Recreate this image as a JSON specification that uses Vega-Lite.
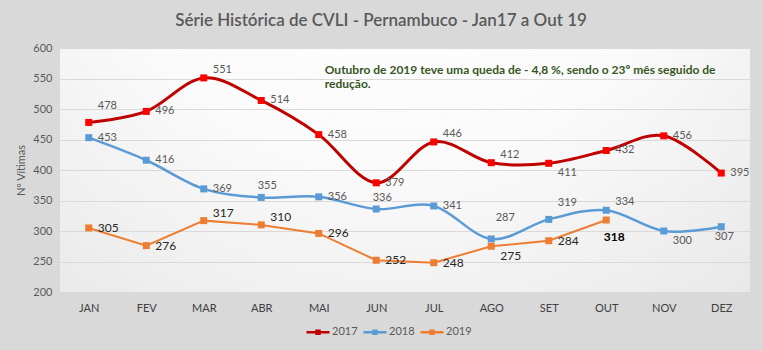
{
  "$schema": "https://vega.github.io/schema/vega-lite/v6.json",
  "width": 690,
  "height": 244,
  "autosize": {"type": "none"},
  "padding": {"left": 60, "top": 48, "right": 13, "bottom": 58},
  "background": "#d9d9d9",
  "title": {
    "text": "Série Histórica de CVLI - Pernambuco - Jan17 a Out 19",
    "font": "Lato",
    "fontSize": 17,
    "fontWeight": 600,
    "color": "#595959",
    "anchor": "middle",
    "dx": -24,
    "offset": 12
  },
  "data": {
    "values": [
      {"mes": "JAN", "ano": "2017", "v": 478},
      {"mes": "FEV", "ano": "2017", "v": 496},
      {"mes": "MAR", "ano": "2017", "v": 551},
      {"mes": "ABR", "ano": "2017", "v": 514},
      {"mes": "MAI", "ano": "2017", "v": 458},
      {"mes": "JUN", "ano": "2017", "v": 379},
      {"mes": "JUL", "ano": "2017", "v": 446},
      {"mes": "AGO", "ano": "2017", "v": 412},
      {"mes": "SET", "ano": "2017", "v": 411},
      {"mes": "OUT", "ano": "2017", "v": 432},
      {"mes": "NOV", "ano": "2017", "v": 456},
      {"mes": "DEZ", "ano": "2017", "v": 395},
      {"mes": "JAN", "ano": "2018", "v": 453},
      {"mes": "FEV", "ano": "2018", "v": 416},
      {"mes": "MAR", "ano": "2018", "v": 369},
      {"mes": "ABR", "ano": "2018", "v": 355},
      {"mes": "MAI", "ano": "2018", "v": 356},
      {"mes": "JUN", "ano": "2018", "v": 336},
      {"mes": "JUL", "ano": "2018", "v": 341},
      {"mes": "AGO", "ano": "2018", "v": 287},
      {"mes": "SET", "ano": "2018", "v": 319},
      {"mes": "OUT", "ano": "2018", "v": 334},
      {"mes": "NOV", "ano": "2018", "v": 300},
      {"mes": "DEZ", "ano": "2018", "v": 307},
      {"mes": "JAN", "ano": "2019", "v": 305},
      {"mes": "FEV", "ano": "2019", "v": 276},
      {"mes": "MAR", "ano": "2019", "v": 317},
      {"mes": "ABR", "ano": "2019", "v": 310},
      {"mes": "MAI", "ano": "2019", "v": 296},
      {"mes": "JUN", "ano": "2019", "v": 252},
      {"mes": "JUL", "ano": "2019", "v": 248},
      {"mes": "AGO", "ano": "2019", "v": 275},
      {"mes": "SET", "ano": "2019", "v": 284},
      {"mes": "OUT", "ano": "2019", "v": 318}
    ]
  },
  "encoding": {
    "x": {
      "field": "mes",
      "type": "ordinal",
      "sort": ["JAN", "FEV", "MAR", "ABR", "MAI", "JUN", "JUL", "AGO", "SET", "OUT", "NOV", "DEZ"],
      "scale": {"type": "point", "padding": 0.5},
      "axis": {"title": null, "labelAngle": 0, "labelPadding": 10, "labelColor": "#404040", "grid": false}
    },
    "y": {
      "field": "v",
      "type": "quantitative",
      "scale": {"domain": [200, 600], "nice": false, "zero": false},
      "axis": {"title": "Nº Vítimas", "values": [200, 250, 300, 350, 400, 450, 500, 550, 600], "labelPadding": 8, "titlePadding": 6, "titleFont": "Lato", "titleFontSize": 11, "titleFontWeight": "normal", "titleColor": "#595959", "grid": true}
    }
  },
  "layer": [
    {
      "transform": [{"filter": "datum.ano != '2019'"}],
      "mark": {"type": "line", "interpolate": "cardinal"},
      "encoding": {
        "color": {"field": "ano", "type": "nominal", "scale": {"domain": ["2017", "2018", "2019"], "range": ["#c00000", "#5b9bd5", "#ed7d31"]},
          "legend": {"title": null, "orient": "none", "legendX": 245, "legendY": 271, "direction": "horizontal", "symbolType": "M-1,0H1M-0.13,-0.13H0.13V0.13H-0.13Z", "symbolSize": 529, "symbolStrokeWidth": 2.5, "labelFont": "Lato", "labelFontSize": 11, "labelColor": "#595959", "labelOffset": 1, "columnPadding": 0}},
        "strokeWidth": {"condition": {"test": "datum.ano == '2017'", "value": 3}, "value": 2.5}
      }
    },
    {
      "transform": [{"filter": "datum.ano == '2019'"}],
      "mark": {"type": "line", "interpolate": "linear", "strokeWidth": 2},
      "encoding": {
        "color": {"field": "ano", "type": "nominal"}
      }
    },
    {
      "mark": {"type": "square", "size": 49, "opacity": 1, "filled": true},
      "encoding": {
        "fill": {"field": "ano", "type": "nominal", "scale": {"domain": ["2017", "2018", "2019"], "range": ["#ff0000", "#5b9bd5", "#ed7d31"]}, "legend": null}
      }
    },
    {
      "transform": [{"calculate": "datum.ano + datum.mes", "as": "k"}, {"filter": "indexof(['2017FEV','2017ABR','2017MAI','2017JUN','2017OUT','2017NOV','2017DEZ','2018JAN','2018FEV','2018MAR','2018MAI','2018JUL','2019JAN','2019FEV','2019MAI','2019JUN','2019JUL','2019SET'], datum.k) >= 0"}],
      "mark": {"type": "text", "align": "left", "baseline": "middle", "dx": 9, "dy": 0, "font": "Lato"},
      "encoding": {
        "text": {"field": "v", "type": "quantitative"},
        "color": {"condition": {"test": "datum.ano == '2019'", "value": "#262626"}, "value": "#595959"},
        "size": {"condition": {"test": "datum.ano == '2019'", "value": 12}, "value": 11}
      }
    },
    {
      "transform": [{"calculate": "datum.ano + datum.mes", "as": "k"}, {"filter": "indexof(['2017MAR','2017JUL','2017AGO','2018OUT','2019MAR','2019ABR'], datum.k) >= 0"}],
      "mark": {"type": "text", "align": "left", "baseline": "middle", "dx": 9, "dy": -8, "font": "Lato"},
      "encoding": {
        "text": {"field": "v", "type": "quantitative"},
        "color": {"condition": {"test": "datum.ano == '2019'", "value": "#262626"}, "value": "#595959"},
        "size": {"condition": {"test": "datum.ano == '2019'", "value": 12}, "value": 11}
      }
    },
    {
      "transform": [{"calculate": "datum.ano + datum.mes", "as": "k"}, {"filter": "indexof(['2017JAN','2018SET'], datum.k) >= 0"}],
      "mark": {"type": "text", "align": "left", "baseline": "middle", "dx": 9, "dy": -16, "font": "Lato", "color": "#595959", "fontSize": 11},
      "encoding": {
        "text": {"field": "v", "type": "quantitative"}
      }
    },
    {
      "transform": [{"calculate": "datum.ano + datum.mes", "as": "k"}, {"filter": "indexof(['2017SET','2018NOV','2019AGO'], datum.k) >= 0"}],
      "mark": {"type": "text", "align": "left", "baseline": "middle", "dx": 9, "dy": 10, "font": "Lato"},
      "encoding": {
        "text": {"field": "v", "type": "quantitative"},
        "color": {"condition": {"test": "datum.ano == '2019'", "value": "#262626"}, "value": "#595959"},
        "size": {"condition": {"test": "datum.ano == '2019'", "value": 12}, "value": 11}
      }
    },
    {
      "transform": [{"calculate": "datum.ano + datum.mes", "as": "k"}, {"filter": "indexof(['2018ABR','2018JUN'], datum.k) >= 0"}],
      "mark": {"type": "text", "align": "center", "baseline": "middle", "dx": 6, "dy": -11, "font": "Lato", "color": "#595959", "fontSize": 11},
      "encoding": {
        "text": {"field": "v", "type": "quantitative"}
      }
    },
    {
      "transform": [{"calculate": "datum.ano + datum.mes", "as": "k"}, {"filter": "datum.k == '2018AGO'"}],
      "mark": {"type": "text", "align": "center", "baseline": "middle", "dx": 14, "dy": -21, "font": "Lato", "color": "#595959", "fontSize": 11},
      "encoding": {
        "text": {"field": "v", "type": "quantitative"}
      }
    },
    {
      "transform": [{"calculate": "datum.ano + datum.mes", "as": "k"}, {"filter": "datum.k == '2018DEZ'"}],
      "mark": {"type": "text", "align": "center", "baseline": "middle", "dx": 3, "dy": 10, "font": "Lato", "color": "#595959", "fontSize": 11},
      "encoding": {
        "text": {"field": "v", "type": "quantitative"}
      }
    },
    {
      "transform": [{"calculate": "datum.ano + datum.mes", "as": "k"}, {"filter": "datum.k == '2019OUT'"}],
      "mark": {"type": "text", "align": "center", "baseline": "middle", "dx": 8, "dy": 17, "font": "Lato", "color": "#000000", "fontSize": 12, "fontWeight": "bold"},
      "encoding": {
        "text": {"field": "v", "type": "quantitative"}
      }
    },
    {
      "transform": [{"calculate": "datum.ano + datum.mes", "as": "k"}, {"filter": "datum.k == '2017MAI'"}],
      "mark": {
        "type": "text",
        "align": "left",
        "baseline": "alphabetic",
        "dx": 6,
        "font": "Lato",
        "fontSize": 12,
        "fontWeight": "bold",
        "color": "#375623",
        "lineHeight": 14
      },
      "encoding": {
        "y": {"datum": 557},
        "text": {"value": ["Outubro de 2019 teve uma queda de  - 4,8 %, sendo o 23º mês seguido de", "redução."]}
      }
    }
  ],
  "config": {
    "font": "Lato",
    "view": {
      "stroke": null,
      "fill": {
        "gradient": "radial",
        "x1": 0.48, "y1": 0.05, "r1": 0,
        "x2": 0.48, "y2": 0.05, "r2": 0.95,
        "stops": [
          {"offset": 0, "color": "#ffffff"},
          {"offset": 0.45, "color": "#fbfbfb"},
          {"offset": 1, "color": "#e2e2e2"}
        ]
      }
    },
    "axis": {"labelFont": "Lato", "labelColor": "#595959", "labelFontSize": 11, "domain": false, "ticks": false, "gridColor": "#d9d9d9", "gridWidth": 1}
  }
}
